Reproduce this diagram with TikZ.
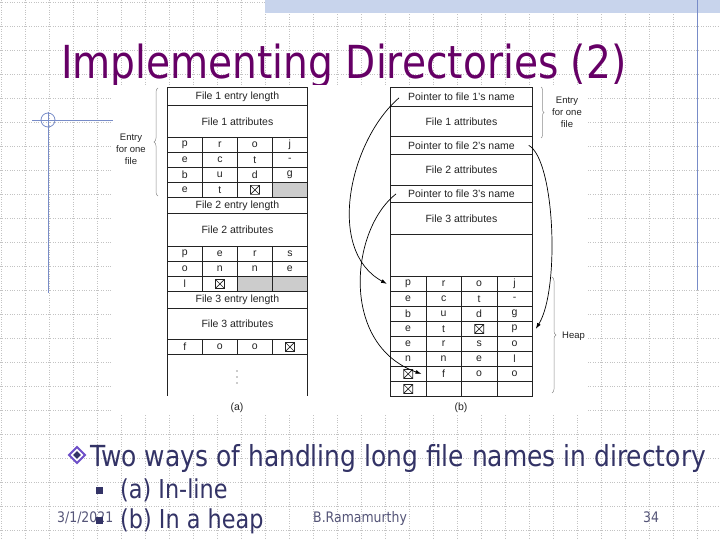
\documentclass[tikz,border=0pt]{standalone}
\usepackage{fontspec}
\setmainfont{Liberation Sans}
\newfontfamily\slidefont[FakeStretch=0.86]{DejaVu Sans}
\usetikzlibrary{arrows.meta, positioning, shapes.geometric, decorations.pathreplacing}
\definecolor{titlepurple}{RGB}{102,0,102}
\definecolor{bodynavy}{RGB}{51,51,102}
\definecolor{bulletpurple}{RGB}{110,80,200}
\definecolor{gridgray}{RGB}{195,195,195}
\definecolor{decoblue}{RGB}{120,140,200}
\definecolor{bandblue}{RGB}{200,212,236}
\definecolor{inkgray}{RGB}{35,35,35}
\definecolor{cellgray}{RGB}{204,204,204}
\definecolor{bracegray}{RGB}{140,140,140}
\definecolor{footgray}{RGB}{85,85,120}
\newcommand\tabfont{\fontsize{10.5}{12}\selectfont}
\tikzset{
  cell/.style={rectangle, draw=inkgray, fill=white, text=inkgray,
    minimum width=35pt, minimum height=15pt, inner sep=0pt,
    anchor=north west, font=\tabfont, line width=0.8pt},
  hcell/.style={cell, minimum width=35.5pt},
  wide/.style={cell, minimum width=#1},
  xcell/.style={#1, path picture={
    \draw[inkgray, line width=0.7pt]
      ([xshift=-4.5pt,yshift=-4.5pt]path picture bounding box.center) rectangle
      ([xshift=4.5pt,yshift=4.5pt]path picture bounding box.center)
      ([xshift=-4.5pt,yshift=-4.5pt]path picture bounding box.center) --
      ([xshift=4.5pt,yshift=4.5pt]path picture bounding box.center)
      ([xshift=-4.5pt,yshift=4.5pt]path picture bounding box.center) --
      ([xshift=4.5pt,yshift=-4.5pt]path picture bounding box.center);}},
  xcell/.default=cell,
  tabline/.style={draw=inkgray, line width=0.8pt},
  note/.style={align=center, inner sep=0pt, font=\fontsize{9.5}{12}\selectfont, text=inkgray},
  captxt/.style={inner sep=0pt, font=\tabfont, text=inkgray},
  curly/.style={bracegray, line width=0.5pt, decorate, decoration={brace, amplitude=#1}},
  ptr/.style={-{Latex[length=6pt,width=4pt]}, line width=0.7pt, black},
  subtxt/.style={anchor=base west, inner sep=0pt, text=bodynavy,
    font=\slidefont\fontsize{26}{30}\selectfont},
  sqbullet/.style={rectangle, fill=bodynavy, minimum size=7pt, inner sep=0pt},
  foot/.style={anchor=base west, inner sep=0pt, text=footgray,
    font=\slidefont\fontsize{14.5}{17}\selectfont}
}
\begin{document}
\begin{tikzpicture}[x=1pt, y=-1pt]
  \useasboundingbox (0,0) rectangle (720,540);
  \fill[white] (0,0) rectangle (720,540);
  % slide background
  \foreach \gx in {1,25,...,697}
    \draw[gridgray, dotted, line width=0.4pt] (\gx,0) -- (\gx,540);
  \foreach \gy in {2,26,...,530}
    \draw[gridgray, dotted, line width=0.4pt] (0,\gy) -- (720,\gy);
  \fill[bandblue] (265,0) rectangle (720,13);
  \draw[decoblue, line width=0.8pt] (697,0) -- (697,290);
  \draw[decoblue, line width=0.8pt] (32,120) -- (114,120);
  \draw[decoblue, line width=0.8pt] (48,112) -- (48,293);
  \draw[decoblue, line width=0.8pt] (48,120) circle (7);
  % title
  \node[anchor=base west, inner sep=0pt, text=titlepurple,
    font=\slidefont\fontsize{45.5}{54}\selectfont] (title) at (61,79)
    {Implementing Directories (2)};
  \fill[white] (113,85) rectangle (588,415);

  % (a) in-line
  \node[wide=140pt, minimum height=18pt] (aLen1) at (167,87) {File 1 entry length};
  \node[wide=140pt, minimum height=32pt] (aAttr1) at (167,105) {File 1 attributes};
  \foreach \ch [count=\i from 0] in {p,r,o,j}
    \node[cell] (aA\i) at ({167+35*\i},137) {\ch};
  \foreach \ch [count=\i from 0] in {e,c,t,-}
    \node[cell] (aB\i) at ({167+35*\i},152) {\ch};
  \foreach \ch [count=\i from 0] in {b,u,d,g}
    \node[cell] (aC\i) at ({167+35*\i},167) {\ch};
  \node[cell] (aD0) at (167,182) {e};
  \node[cell] (aD1) at (202,182) {t};
  \node[xcell] (aD2) at (237,182) {};
  \node[cell, fill=cellgray] (aD3) at (272,182) {};
  \node[wide=140pt, minimum height=16pt] (aLen2) at (167,197) {File 2 entry length};
  \node[wide=140pt, minimum height=33pt] (aAttr2) at (167,213) {File 2 attributes};
  \foreach \ch [count=\i from 0] in {p,e,r,s}
    \node[cell] (aE\i) at ({167+35*\i},246) {\ch};
  \foreach \ch [count=\i from 0] in {o,n,n,e}
    \node[cell] (aF\i) at ({167+35*\i},261) {\ch};
  \node[cell] (aG0) at (167,276) {l};
  \node[xcell] (aG1) at (202,276) {};
  \node[cell, fill=cellgray] (aG2) at (237,276) {};
  \node[cell, fill=cellgray] (aG3) at (272,276) {};
  \node[wide=140pt, minimum height=17pt] (aLen3) at (167,291) {File 3 entry length};
  \node[wide=140pt, minimum height=31pt] (aAttr3) at (167,308) {File 3 attributes};
  \node[cell] (aH0) at (167,339) {f};
  \node[cell] (aH1) at (202,339) {o};
  \node[cell] (aH2) at (237,339) {o};
  \node[xcell] (aH3) at (272,339) {};
  \draw[tabline] (aH0.south west) -- ++(0,41);
  \draw[tabline] (aH3.south east) -- ++(0,41);
  % more entries follow
  \foreach \dy in {371,377,383}
    \fill[inkgray] (237,\dy) circle (0.7);
  \draw[curly=4pt] (158,196) -- (158,88);
  \node[note] (aEntry) at (131,149) {Entry\\for one\\file};
  \node[captxt] (aCap) at (237,408) {(a)};

  % (b) in a heap
  \node[wide=142pt, minimum height=19pt] (bPtr1) at (390,87) {Pointer to file 1's name};
  \node[wide=142pt, minimum height=30pt] (bAttr1) at (390,106) {File 1 attributes};
  \node[wide=142pt, minimum height=18pt] (bPtr2) at (390,136) {Pointer to file 2's name};
  \node[wide=142pt, minimum height=31pt] (bAttr2) at (390,154) {File 2 attributes};
  \node[wide=142pt, minimum height=17pt] (bPtr3) at (390,185) {Pointer to file 3's name};
  \node[wide=142pt, minimum height=32pt] (bAttr3) at (390,202) {File 3 attributes};
  \node[wide=142pt, minimum height=42pt] (bFree) at (390,234) {};
  \foreach \ch [count=\i from 0] in {p,r,o,j}
    \node[hcell] (bH1-\i) at ({390+35.5*\i},276) {\ch};
  \foreach \ch [count=\i from 0] in {e,c,t,-}
    \node[hcell] (bH2-\i) at ({390+35.5*\i},291) {\ch};
  \foreach \ch [count=\i from 0] in {b,u,d,g}
    \node[hcell] (bH3-\i) at ({390+35.5*\i},306) {\ch};
  \node[hcell] (bH4-0) at (390,321) {e};
  \node[hcell] (bH4-1) at (425.5,321) {t};
  \node[xcell=hcell] (bH4-2) at (461,321) {};
  \node[hcell] (bH4-3) at (496.5,321) {p};
  \foreach \ch [count=\i from 0] in {e,r,s,o}
    \node[hcell] (bH5-\i) at ({390+35.5*\i},336) {\ch};
  \foreach \ch [count=\i from 0] in {n,n,e,l}
    \node[hcell] (bH6-\i) at ({390+35.5*\i},351) {\ch};
  \node[xcell=hcell] (bH7-0) at (390,366) {};
  \node[hcell] (bH7-1) at (425.5,366) {f};
  \node[hcell] (bH7-2) at (461,366) {o};
  \node[hcell] (bH7-3) at (496.5,366) {o};
  \node[xcell=hcell] (bH8-0) at (390,381) {};
  \node[hcell] (bH8-1) at (425.5,381) {};
  \node[hcell] (bH8-2) at (461,381) {};
  \node[hcell] (bH8-3) at (496.5,381) {};
  % name pointers
  \draw[ptr] ([xshift=9pt,yshift=-1pt]bPtr1.west) .. controls (350,140) and (325,250) .. ([xshift=-3pt]bH1-0.west);
  \draw[ptr] ([xshift=6pt]bPtr3.west) .. controls (350,230) and (340,345) .. ([xshift=-4pt]bH7-1.west);
  \draw[ptr] ([xshift=-4pt]bPtr2.east) .. controls (555,160) and (560,290) .. ([xshift=3pt]bH4-3.east);
  \draw[curly=3pt] (541,87) -- (541,138);
  \node[note] (bEntry) at (567,112) {Entry\\for one\\file};
  \draw[curly=4pt] (552,277) -- (552,393);
  \node[note, anchor=west] (bHeap) at (562,336) {Heap};
  \node[captxt] (bCap) at (461,408) {(b)};

  % bullet text
  \node[diamond, fill=bulletpurple, minimum size=19pt, inner sep=0pt] (dia) at (77,455) {};
  \node[diamond, fill=white, minimum size=13pt, inner sep=0pt] (diaRing) at (dia) {};
  \node[diamond, fill=bodynavy, minimum size=8pt, inner sep=0pt] (diaCore) at (dia) {};
  \node[anchor=base west, inner sep=0pt, text=bodynavy,
    font=\slidefont\fontsize{29}{34}\selectfont] (point) at (90,466)
    {Two ways of handling long file names in directory};
  \node[foot] (date) at (57,522) {3/1/2021};
  \node[foot] (author) at (313,522) {B.Ramamurthy};
  \node[foot] (page) at (643,522) {34};
  \node[sqbullet] (sqA) at (99,490) {};
  \node[subtxt] (subA) at (120,498) {(a) In-line};
  \node[sqbullet] (sqB) at (99,520) {};
  \node[subtxt] (subB) at (120,528) {(b) In a heap};
\end{tikzpicture}
\end{document}
